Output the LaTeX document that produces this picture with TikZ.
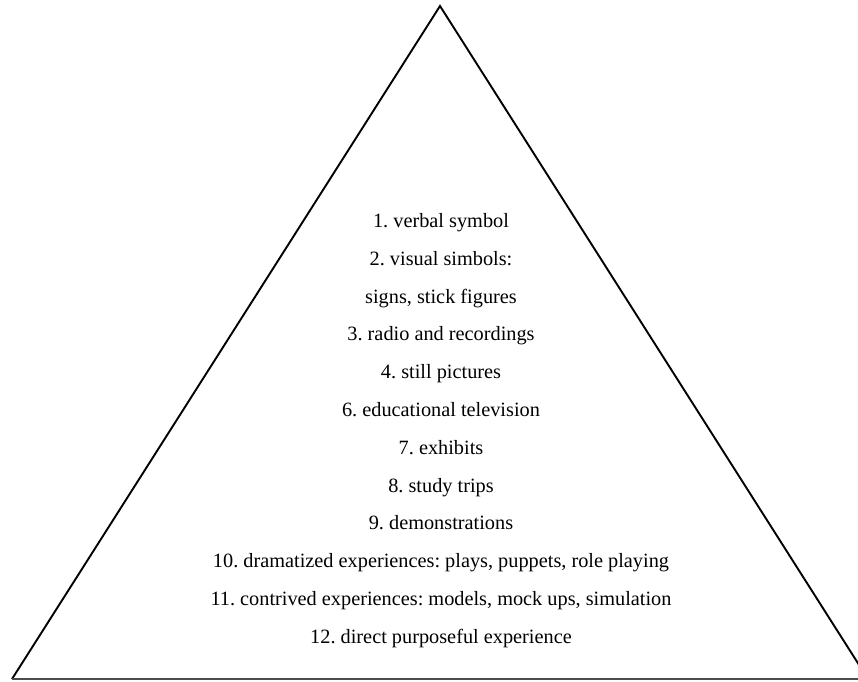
\documentclass[tikz,border=0pt]{standalone}
\usepackage{fontspec}
\setmainfont{Liberation Serif}
\usetikzlibrary{positioning}
\frenchspacing

\begin{document}
\begin{tikzpicture}[x=1pt,y=-1pt,
		level/.style={inner sep=0pt,text height=14pt,text depth=5pt,font=\fontsize{20.3}{24}\selectfont,anchor=center},
		side/.style={line width=1.9pt,black}]
		\useasboundingbox (0,0) rectangle (858,681);
		\clip (0,0) rectangle (858,681);
		\coordinate (apex) at (440,6);
		\coordinate (left) at (12,679);
		\coordinate (right) at (868,679);
		\coordinate (edge) at (858,679);
		\draw[side] (left) -- (apex) -- (right);
		\draw[line width=1.9pt,black!70] (left) -- (edge);
		% levels, top to bottom
		\node[level] (l1) at (441,223) {1. verbal symbol};
		\node[level] (l2) at (441,260.8) {2. visual simbols:};
		\node[level] (l3) at (441,298.6) {signs, stick figures};
		\node[level] (l4) at (441,336.4) {3. radio and recordings};
		\node[level] (l5) at (441,374.2) {4. still pictures};
		\node[level] (l6) at (441,412) {6. educational television};
		\node[level] (l7) at (441,449.8) {7. exhibits};
		\node[level] (l8) at (441,487.6) {8. study trips};
		\node[level] (l9) at (441,525.4) {9. demonstrations};
		\node[level] (l10) at (441,563.2) {10. dramatized experiences: plays, puppets, role playing};
		\node[level] (l11) at (441,601) {11. contrived experiences: models, mock ups, simulation};
		\node[level] (l12) at (441,638.8) {12. direct purposeful experience};
\end{tikzpicture}
\end{document}
